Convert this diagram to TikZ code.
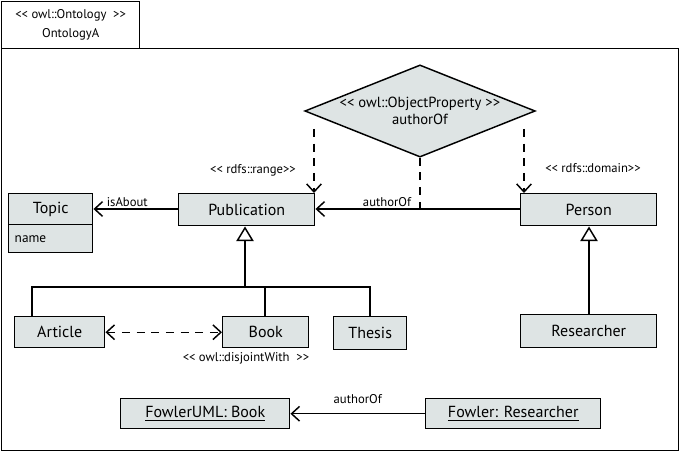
\documentclass[tikz,border=0pt]{standalone}
\usepackage{fontspec}
\setmainfont{PT Sans}
\usetikzlibrary{shapes.geometric,arrows.meta}
\definecolor{boxfill}{RGB}{222,228,228}
\newcommand{\stl}{<{}<}
\newcommand{\stg}{>{}>}
\begin{document}
\begin{tikzpicture}[x=0.75pt,y=-0.75pt,
  cls/.style={draw,line width=1.1pt,fill=boxfill,anchor=north west,inner sep=0pt,font=\fontsize{12}{13}\selectfont},
  lbl/.style={font=\fontsize{9.5}{10}\selectfont,inner sep=1pt},
  open/.style={-{Straight Barb[length=6pt,width=11pt]}},
  line/.style={line width=1.1pt},
  dsh/.style={line width=1.1pt,dash pattern=on 6pt off 5pt},
  inh/.style={line width=1.1pt,-{Triangle[open,length=11pt,width=13pt,fill=white]}}]
\useasboundingbox (0,0) rectangle (680,452);
\node[draw,line width=1pt,anchor=north west,minimum width=138*0.75pt,minimum height=47*0.75pt,inner sep=0pt,align=center,font=\fontsize{9.5}{11}\selectfont] (tab) at (1,1) {\stl\ owl::Ontology\ \ \stg\\[3pt]OntologyA};
\node[draw,line width=1pt,anchor=north west,minimum width=677*0.75pt,minimum height=402*0.75pt,inner sep=0pt] (frame) at (1,48) {};
% diamond
\node[diamond,draw,line width=1.1pt,fill=boxfill,aspect=2.5,minimum width=211*0.75pt,minimum height=86*0.75pt,inner sep=0pt,align=center,font=\fontsize{11}{13}\selectfont] (prop) at (420,111) {\stl\ owl::ObjectProperty \stg\\authorOf};
% classes
\node[cls,minimum width=84*0.75pt,minimum height=31*0.75pt] (topic) at (8,193) {Topic};
\node[draw,line width=1.1pt,fill=boxfill,anchor=north west,minimum width=84*0.75pt,minimum height=28*0.75pt,inner sep=0pt] (topicattr) at (8,224) {};
\node[anchor=west,font=\fontsize{10}{11}\selectfont] (tname) at (10,239) {name};
\node[cls,minimum width=136*0.75pt,minimum height=32*0.75pt] (pub) at (178,193) {Publication};
\node[cls,minimum width=136*0.75pt,minimum height=32*0.75pt] (person) at (520,193) {Person};
\node[cls,minimum width=90*0.75pt,minimum height=31*0.75pt] (article) at (14,316) {Article};
\node[cls,minimum width=86*0.75pt,minimum height=31*0.75pt] (book) at (222,316) {Book};
\node[cls,minimum width=73*0.75pt,minimum height=33*0.75pt] (thesis) at (333,316) {Thesis};
\node[cls,minimum width=136*0.75pt,minimum height=33*0.75pt] (res) at (520,314) {Researcher};
\node[cls,minimum width=169*0.75pt,minimum height=30*0.75pt] (fuml) at (120,398) {\underline{FowlerUML: Book}};
\node[cls,minimum width=175*0.75pt,minimum height=30*0.75pt] (fres) at (425,398) {\underline{Fowler: Researcher}};
% coordinates
\coordinate (pubTR) at (314,193);
\coordinate (perTL) at (524,193);
\coordinate (dl) at (314,129);
\coordinate (dr) at (524,129);
\coordinate (ln) at (420,216);
\coordinate (hub) at (245,287);
% dashed property links
\draw[dsh,open] (dl) -- (pubTR);
\draw[dsh,open] (dr) -- (perTL);
\draw[dsh] (prop.south) -- (ln);
\node[lbl] (rng) at (253,170) {\stl\ rdfs::range\stg};
\node[lbl] (dom) at (593,168) {\stl\ rdfs::domain\stg};
% associations
\draw[line,open] (person.west |- 0,209) -- (pub.east |- 0,209) node[lbl,pos=0.65,above] (a1) {authorOf};
\draw[line,open] (pub.west |- 0,209) -- (topic.east |- 0,209) node[lbl,pos=0.6,above] (a2) {isAbout};
\draw[line,open] (fres.west) -- (fuml.east) node[lbl,midway,above=6pt] (a3) {authorOf};
% inheritance
\draw[line] (article.north -| 32,0) |- (hub) -| (book.north -| 265,0);
\draw[line] (hub) -| (thesis.north -| 370,0);
\draw[inh] (hub) -- (pub.south -| hub);
\draw[inh] (res.north -| 589,0) -- (person.south -| 589,0);
% disjoint
\draw[dsh,{Straight Barb[length=6pt,width=11pt]}-{Straight Barb[length=6pt,width=11pt]}] (article.east) -- (book.west);
\node[lbl] (dj) at (246,358) {\stl\ owl::disjointWith \ \stg};
\end{tikzpicture}
\end{document}
